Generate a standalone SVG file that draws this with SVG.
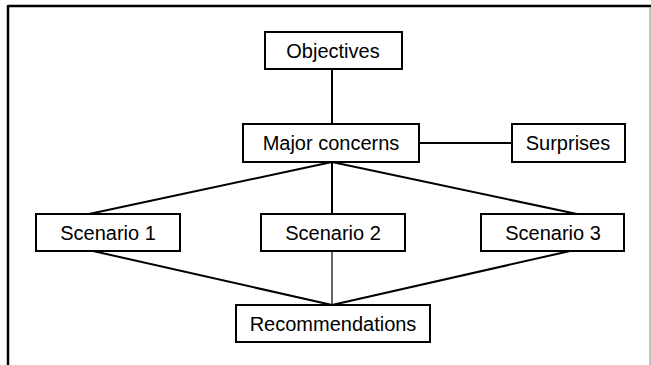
<svg xmlns="http://www.w3.org/2000/svg" width="651" height="365" viewBox="0 0 651 365">
<style>
.box{fill:#fff;stroke:#000;stroke-width:2}
.lbl{font-family:"Liberation Sans",Arial,sans-serif;font-size:20px;fill:#000;text-anchor:middle}
.c{stroke:#000;stroke-width:2;fill:none}
.thin{stroke:#000;stroke-width:1.2;fill:none}
</style>
<rect width="651" height="365" fill="#fff"/>
<g id="frame">
<line x1="8" y1="6" x2="651" y2="6" stroke="#000" stroke-width="2.5"/>
<line x1="8" y1="5" x2="8" y2="365" stroke="#000" stroke-width="2.5"/>
<line x1="650" y1="7" x2="650" y2="365" stroke="#999" stroke-width="1.2"/>
</g>
<g id="connectors">
<line class="c" x1="332" y1="69" x2="332" y2="124"/>
<line class="c" x1="419" y1="143" x2="512" y2="143"/>
<line class="c" x1="332" y1="162" x2="89" y2="214"/>
<line class="c" x1="332" y1="162" x2="332" y2="214"/>
<line class="c" x1="332" y1="162" x2="577" y2="214"/>
<line class="c" x1="93" y1="251" x2="332" y2="305"/>
<line class="thin" x1="332" y1="251" x2="332" y2="305"/>
<line class="c" x1="570" y1="251" x2="332" y2="305"/>
</g>
<g id="objectives">
<rect class="box" x="265" y="32" width="137" height="37"/>
<text class="lbl" x="333" y="57.5">Objectives</text>
</g>
<g id="major-concerns">
<rect class="box" x="243" y="124" width="176" height="38"/>
<text class="lbl" x="331" y="150">Major concerns</text>
</g>
<g id="surprises">
<rect class="box" x="512" y="124" width="113" height="38"/>
<text class="lbl" x="568" y="150">Surprises</text>
</g>
<g id="scenario-1">
<rect class="box" x="36" y="214" width="144" height="37"/>
<text class="lbl" x="108" y="239.5">Scenario 1</text>
</g>
<g id="scenario-2">
<rect class="box" x="261" y="214" width="144" height="37"/>
<text class="lbl" x="333" y="239.5">Scenario 2</text>
</g>
<g id="scenario-3">
<rect class="box" x="481" y="214" width="143" height="37"/>
<text class="lbl" x="553" y="239.5">Scenario 3</text>
</g>
<g id="recommendations">
<rect class="box" x="236" y="305" width="194" height="37"/>
<text class="lbl" x="333" y="330.5">Recommendations</text>
</g>
</svg>
